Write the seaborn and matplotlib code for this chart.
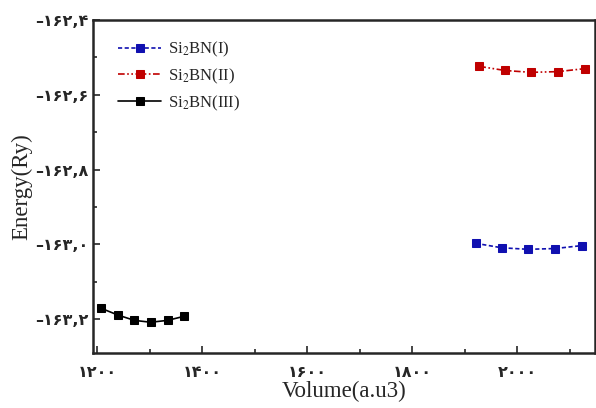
import matplotlib
matplotlib.use("Agg")
import matplotlib.pyplot as plt
from matplotlib.ticker import FixedLocator, MultipleLocator
import seaborn as sns
import pandas as pd

# ---- data ----
vol_I = [1921, 1971, 2021, 2072, 2124]
en_I = [-162.997, -163.009, -163.013, -163.011, -163.003]
vol_II = [1928, 1977, 2027, 2078, 2129]
en_II = [-162.524, -162.535, -162.540, -162.538, -162.530]
vol_III = [1208, 1240, 1271, 1302, 1334, 1366]
en_III = [-163.171, -163.189, -163.203, -163.208, -163.203, -163.192]

labels = ["Si$_2$BN(I)", "Si$_2$BN(II)", "Si$_2$BN(III)"]
colors = ["#1010b0", "#c00000", "#000000"]
x_ticks = [1200, 1400, 1600, 1800, 2000]
x_tick_labels = ["۱۲۰۰", "۱۴۰۰", "۱۶۰۰", "۱۸۰۰", "۲۰۰۰"]
y_ticks = [-162.4, -162.6, -162.8, -163.0, -163.2]
y_tick_labels = ["–۱۶۲,۴", "–۱۶۲,۶", "–۱۶۲,۸", "–۱۶۳,۰", "–۱۶۳,۲"]

sns.set_style("ticks")
plt.rcParams['font.family'] = ['Liberation Serif', 'DejaVu Serif']
plt.rcParams['mathtext.fontset'] = 'stix'

fig = plt.figure(figsize=(5.96, 4.08), dpi=100)
ax = fig.add_axes([0.156, 0.135, 0.842, 0.816])

series = [(vol_I, en_I, (0, (2.5, 1.5))),
          (vol_II, en_II, (0, (4, 1.5, 1, 1.5, 1, 1.5))),
          (vol_III, en_III, '-')]
for (vx, ey, ls), lab, c in zip(series, labels, colors):
    df = pd.DataFrame({"Volume": vx, "Energy": ey})
    sns.lineplot(data=df, x="Volume", y="Energy", ax=ax, color=c,
                 linestyle=ls, marker='s', markersize=6, linewidth=1.2,
                 markeredgecolor=c, label=lab)

ax.set_xlim(1192, 2148)
ax.set_ylim(-163.29, -162.4)
ax.xaxis.set_major_locator(FixedLocator(x_ticks))
ax.set_xticklabels(x_tick_labels, family=['DejaVu Sans'], fontweight='bold', fontsize=11.5)
ax.xaxis.set_minor_locator(MultipleLocator(100))
ax.yaxis.set_major_locator(FixedLocator(y_ticks))
ax.set_yticklabels(y_tick_labels, family=['DejaVu Sans'], fontweight='bold', fontsize=11.5)
ax.yaxis.set_minor_locator(MultipleLocator(0.1))
ax.tick_params(which='both', direction='in', width=1.2)
ax.tick_params(which='major', length=5)
ax.tick_params(axis='x', which='major', pad=9)
ax.tick_params(axis='y', which='major', pad=3)
ax.tick_params(which='minor', length=3)
for s in ax.spines.values():
    s.set_linewidth(1.8)
    s.set_visible(True)

ax.set_xlabel("Volume(a.u3)", fontsize=16.5, labelpad=0)
ax.set_ylabel("Energy(Ry)", fontsize=16.5, labelpad=2)

leg = ax.legend(loc='upper left', bbox_to_anchor=(0.02, 0.985), frameon=False,
                fontsize=12, handlelength=2.6, handletextpad=0.4, labelspacing=0.45)

fig.savefig("out.png", dpi=100)
